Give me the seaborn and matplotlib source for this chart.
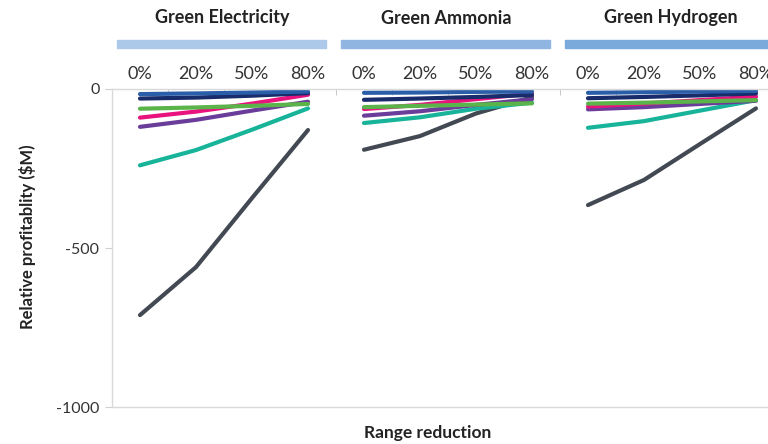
import pandas as pd
import seaborn as sns
import matplotlib.pyplot as plt
import matplotlib.transforms as mtransforms
from matplotlib.patches import Rectangle

# Datos
panels = ['Green Electricity', 'Green Ammonia', 'Green Hydrogen']
levels = ['0%', '20%', '50%', '80%']
series = ['gray', 'teal', 'purple', 'pink', 'green', 'navy', 'blue']

electricity = {
    'gray':   [-711, -560, -343, -129],
    'teal':   [-240, -192, -128, -61],
    'purple': [-119, -97, -68, -40],
    'pink':   [-90, -71, -46, -18],
    'green':  [-62, -58, -53, -47],
    'navy':   [-30, -27, -21, -13],
    'blue':   [-16, -14, -11, -8],
}
ammonia = {
    'gray':   [-191, -148, -77, -26],
    'teal':   [-107, -89, -62, -43],
    'purple': [-84, -70, -50, -32],
    'pink':   [-63, -50, -32, -14],
    'green':  [-57, -53, -49, -45],
    'navy':   [-34, -30, -25, -19],
    'blue':   [-12, -11, -9, -8],
}
hydrogen = {
    'gray':   [-365, -286, -173, -61],
    'teal':   [-122, -101, -68, -35],
    'purple': [-64, -57, -47, -37],
    'pink':   [-55, -46, -35, -24],
    'green':  [-46, -43, -39, -35],
    'navy':   [-29, -25, -20, -14],
    'blue':   [-12, -10, -8, -6],
}

colores = {
    'gray': '#434953', 'teal': '#17b49a', 'purple': '#6a3d9a',
    'pink': '#e8137e', 'green': '#5bb449', 'navy': '#182c6b', 'blue': '#2a5ea9',
}
barras = ['#adc9ea', '#90b5e1', '#79aadb']

filas = []
for g, datos in enumerate([electricity, ammonia, hydrogen]):
    for s in series:
        for i, v in enumerate(datos[s]):
            filas.append({'panel': panels[g], 'pos': g * 4 + i, 'serie': s, 'valor': v})
df = pd.DataFrame(filas)

sns.set_style('white')
plt.rcParams['font.family'] = ['Lato', 'DejaVu Sans']

fig = plt.figure(figsize=(7.68, 4.44), dpi=100)
ax = fig.add_axes([112 / 768, 1 - 407 / 444, 672 / 768, 318 / 444])

for p in panels:
    sns.lineplot(data=df[df.panel == p], x='pos', y='valor', hue='serie',
                 palette=colores, linewidth=3, legend=False, ax=ax)

ax.set_xlim(-0.5, 11.5)
ax.set_ylim(-1000, 0)
ax.set_yticks([0, -500, -1000])
ax.set_yticklabels(['0', '-500', '-1000'], fontsize=11.5, color='#333333')
ax.xaxis.tick_top()
ax.set_xticks(range(12))
ax.set_xticklabels(levels * 3, fontsize=13, color='#333333')
ax.set_xticks([k + 0.5 for k in range(-1, 12)], minor=True)
ax.tick_params(axis='x', which='major', length=0, pad=5)
ax.tick_params(axis='x', which='minor', direction='in', length=4, color='#bfbfbf', top=True)
ax.tick_params(axis='y', length=5, color='#d0d0d0', left=True, pad=4)
ax.set_xlabel('')
ax.set_ylabel('')
for lado in ['top', 'bottom', 'left']:
    ax.spines[lado].set_color('#d9d9d9')
    ax.spines[lado].set_linewidth(1)
ax.spines['right'].set_visible(False)

# Encabezados de cada grupo con su barra de color
trans = mtransforms.blended_transform_factory(ax.transData, fig.transFigure)
for g, p in enumerate(panels):
    ax.add_patch(Rectangle((g * 4 - 0.41, 1 - 48 / 444), 3.73, 8 / 444,
                           transform=trans, color=barras[g], clip_on=False))
    ax.text(g * 4 + 1.47, 1 - 18 / 444, p, transform=trans, ha='center', va='center',
            fontsize=13, fontweight='bold', color='#222222')

fig.text(428 / 768, 1 - 433 / 444, 'Range reduction', ha='center', va='center',
         fontsize=12.5, fontweight='bold', color='#222222')
fig.text(28 / 768, 1 - 237 / 444, 'Relative profitablity ($M)', ha='center', va='center',
         rotation=90, fontsize=12, fontweight='bold', color='#222222')

plt.savefig('out.png', dpi=100)
